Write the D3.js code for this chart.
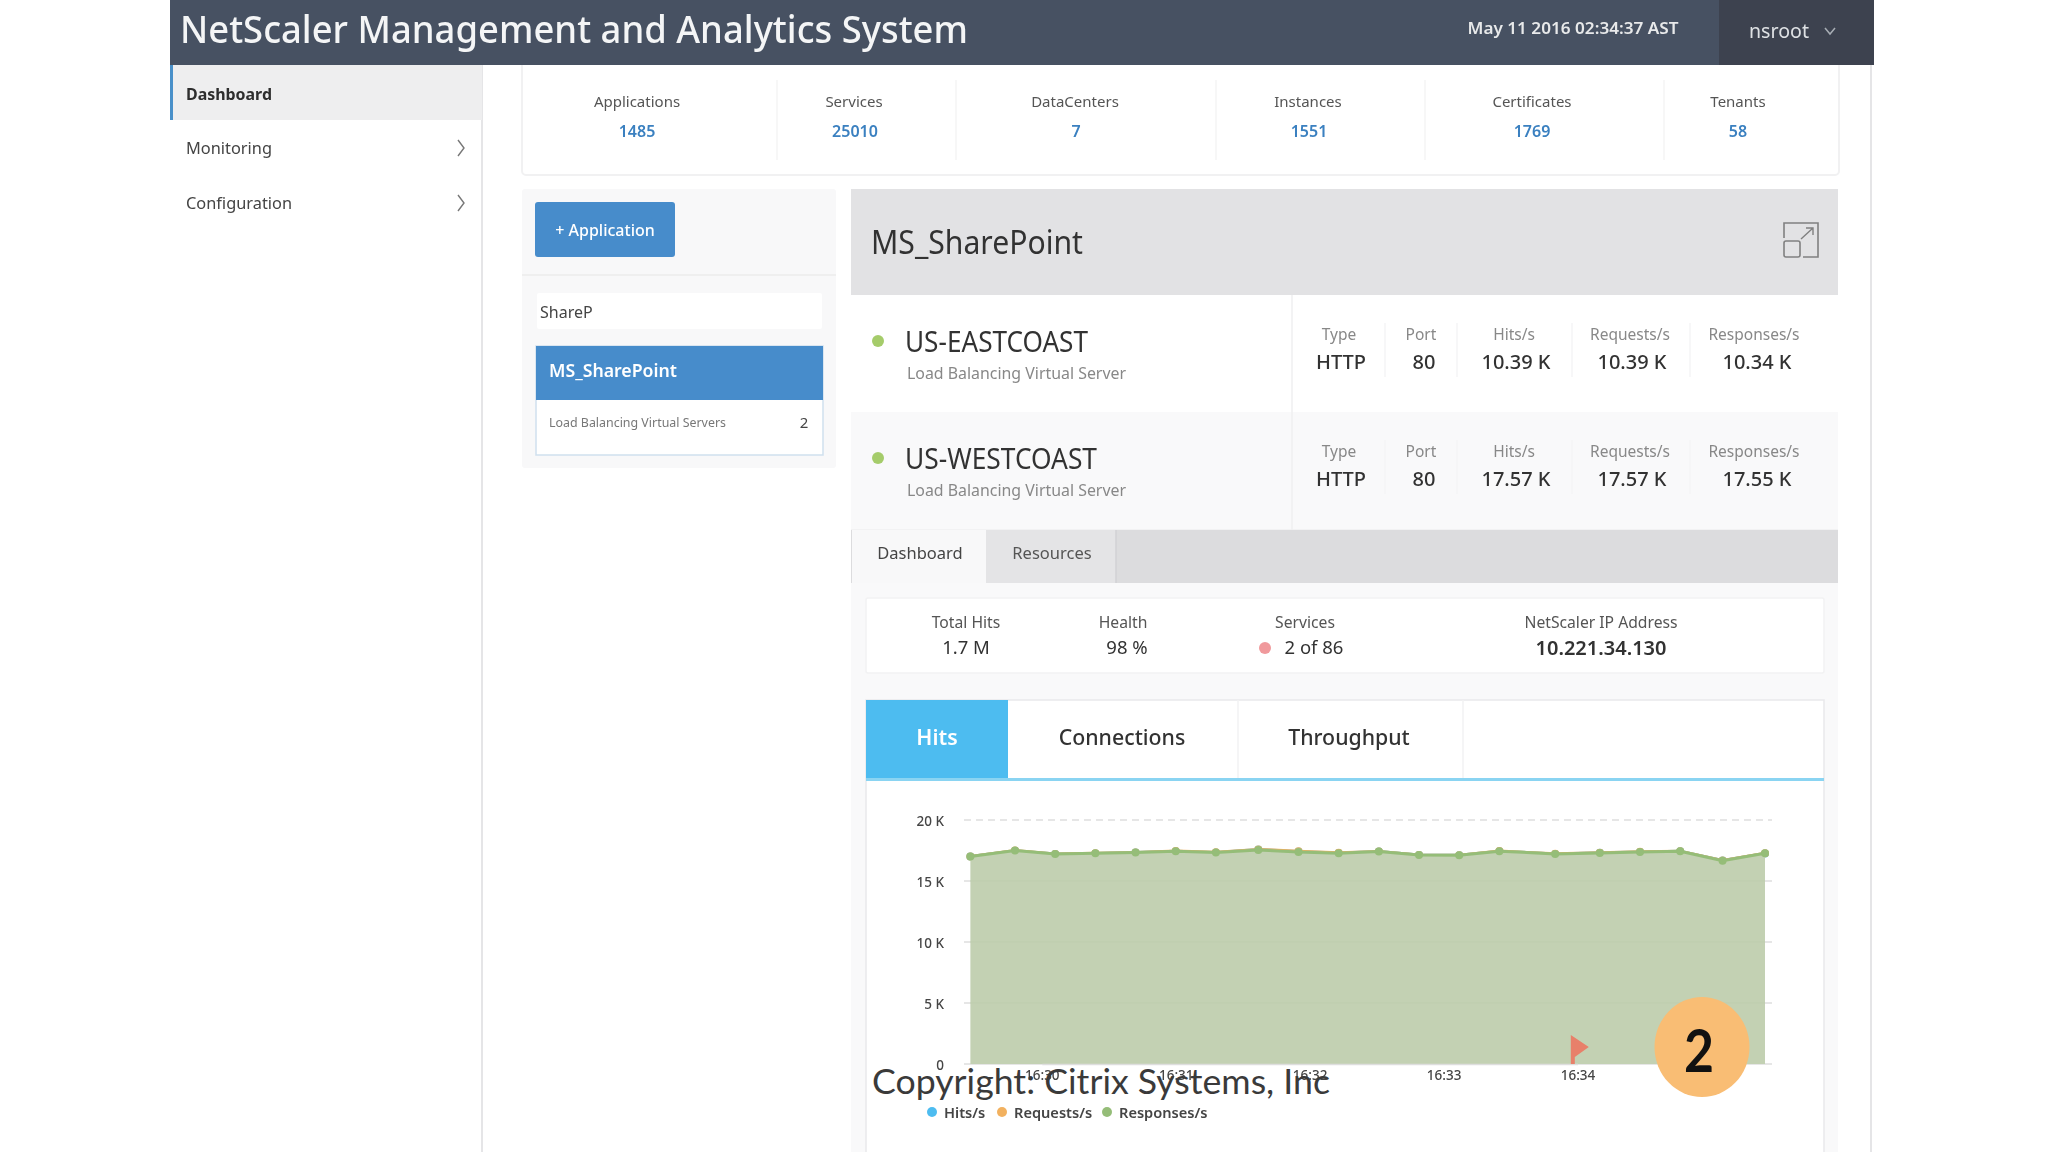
<!DOCTYPE html>
<html><head><meta charset="utf-8">
<script src="https://cdn.jsdelivr.net/npm/d3@7"></script>
<style>
html,body{margin:0;padding:0;background:#fff;width:2048px;height:1152px;overflow:hidden}
svg{display:block}
text{font-family:"Noto Sans","Open Sans",sans-serif}
.wm{font-family:Lato,"Noto Sans",sans-serif}
</style></head><body>
<script>
// ---- chart data ----
const times = ["16:29:28","16:29:48","16:30:06","16:30:24","16:30:42","16:31:00","16:31:18","16:31:37","16:31:55","16:32:13","16:32:31","16:32:49","16:33:07","16:33:25","16:33:50","16:34:10","16:34:28","16:34:46","16:35:05","16:35:24"];
const hitsPerSec = [17000,17480,17210,17260,17330,17430,17340,17580,17420,17300,17420,17130,17110,17440,17220,17310,17380,17430,16680,17260];
const requestsPerSec = [17010,17490,17220,17270,17340,17450,17360,17590,17440,17310,17420,17140,17120,17450,17230,17320,17390,17440,16690,17270];
const responsesPerSec = [17000,17490,17220,17270,17330,17440,17330,17550,17380,17270,17410,17130,17110,17440,17220,17300,17380,17440,16670,17270];
const yTicks = [0,5000,10000,15000,20000];
const yTickLabels = ["0","5 K","10 K","15 K","20 K"];
const xTicks = ["16:30:00","16:31:00","16:32:00","16:33:00","16:34:00"];
const xTickLabels = ["16:30","16:31","16:32","16:33","16:34"];
const legendNames = ["Hits/s","Requests/s","Responses/s"];
const flagTime = "16:33:57";
// ---- page text ----
const pageTitle = "NetScaler Management and Analytics System";
const clock = "May 11 2016 02:34:37 AST";
const user = "nsroot";
const navItems = ["Dashboard","Monitoring","Configuration"];
const summaryLabels = ["Applications","Services","DataCenters","Instances","Certificates","Tenants"];
const summaryValues = ["1485","25010","7","1551","1769","58"];
const serverNames = ["US-EASTCOAST","US-WESTCOAST"];
const serverHeads = ["Type","Port","Hits/s","Requests/s","Responses/s"];
const serverRows = [["HTTP","80","10.39 K","10.39 K","10.34 K"],["HTTP","80","17.57 K","17.57 K","17.55 K"]];
const detailLabels = ["Total Hits","Health","Services","NetScaler IP Address"];
const detailValues = ["1.7 M","98 %","2 of 86","10.221.34.130"];
const chartTabs = ["Hits","Connections","Throughput"];
const subTabs = ["Dashboard","Resources"];

// ---- layout and style (separate from the data) ----
const seriesColors = ["#4ebcf0","#f2b15f","#95bd78"];
const W=2048,H=1152;
const svg = d3.select("body").append("svg").attr("width",W).attr("height",H);
const defs = svg.append("defs");
defs.append("filter").attr("id","soft").attr("x",0).attr("y",0).attr("width",1).attr("height",1)
  .append("feGaussianBlur").attr("stdDeviation",0.65);
const ui = svg.append("g").attr("filter","url(#soft)");
ui.append("rect").attr("width",W).attr("height",H).attr("fill","#fff");

function R(x,y,w,h,fill,o={}){return ui.append("rect").attr("x",x).attr("y",y).attr("width",w).attr("height",h).attr("fill",fill).attr("stroke",o.stroke||"none").attr("stroke-width",o.sw||1).attr("rx",o.r||0);}
function T(s,x,y,size,fill,o={}){return ui.append("text").attr("x",x).attr("y",y).attr("dy","0.35em").attr("font-size",size).attr("fill",fill).attr("text-anchor",o.a||"middle").attr("font-weight",o.w||400).attr("textLength",o.len||null).attr("lengthAdjust",o.len?"spacingAndGlyphs":null).text(s);}
function L(x1,y1,x2,y2,c,sw=1,dash=null){return ui.append("line").attr("x1",x1).attr("y1",y1).attr("x2",x2).attr("y2",y2).attr("stroke",c).attr("stroke-width",sw).attr("stroke-dasharray",dash);}

// sidebar
L(482,65,482,H,"#dcdcdf",1.5);
L(1871,65,1871,H,"#dcdcdf",1.5);
R(170,65,312,55,"#eeeeef");
R(170,65,3,55,"#4a90c9");
const navY=[94,148,203], navLen=[86,86,106];
navItems.forEach((d,i)=>{
  T(d,186,navY[i],16.5,i?"#444":"#2e2e2e",{a:"start",w:i?400:700,len:navLen[i]});
  if(i) ui.append("path").attr("d",`M458 ${navY[i]-8}l6 8l-6 8`).attr("fill","none").attr("stroke","#777").attr("stroke-width",1.4);
});

// summary card
R(522,60,1317,115,"#fff",{stroke:"#f1f1f2",r:4,sw:2});
// header (over the card's top edge)
R(170,0,1704,65,"#465162");
R(1719,0,155,65,"#3c4350");
T(pageTitle,180,30,38,"#f4f5f6",{a:"start",len:788,w:500});
T(clock,1573,29,15.5,"#e8e9ea",{w:600,len:211});
T(user,1779,31,19,"#dfe1e4",{len:60});
ui.append("path").attr("d","M1825 28l5 6l5-6").attr("fill","none").attr("stroke","#a9adb4").attr("stroke-width",1.5);

[777,956,1216,1425,1664].forEach(x=>L(x,80,x,160,"#f4f4f5",1.5));
const sumLX=[637,854,1075,1308,1532,1738], sumVX=[637,855,1076,1309,1532,1738];
summaryLabels.forEach((d,i)=>{T(d,sumLX[i],102,15,"#555");T(summaryValues[i],sumVX[i],131,16,"#3a80c0",{w:600});});

// left panel
R(522,189,314,279,"#f8f8f9",{r:3});
R(535,202,140,55,"#478ccb",{r:3});
T("+ Application",605,230,16,"#fff",{w:500});
L(522,275,836,275,"#efefef",2);
R(537,293,285,36,"#fff",{r:2});
T("ShareP",540,312,16,"#444",{a:"start"});
R(536,346,287,109,"#fff",{stroke:"#cfe0ee",sw:1.5});
R(536,346,287,54,"#478ccb");
T("MS_SharePoint",549,371,18,"#fff",{a:"start",w:600,len:128});
T("Load Balancing Virtual Servers",549,423,12.5,"#777",{a:"start",len:177});
T("2",804,423,15,"#444");

// right panel
R(851,189,987,106,"#e2e2e4");
T("MS_SharePoint",871,243,32,"#333",{a:"start",len:212});
ui.append("path").attr("d","M1784 238V223H1818V257H1803").attr("fill","none").attr("stroke","#808080").attr("stroke-width",1.6);
ui.append("rect").attr("x",1784).attr("y",241).attr("width",16).attr("height",16).attr("rx",2).attr("fill","none").attr("stroke","#808080").attr("stroke-width",1.6);
ui.append("path").attr("d","M1801 239L1813 228M1806 228h7v7").attr("fill","none").attr("stroke","#808080").attr("stroke-width",1.4);

const rowTop=[295,412], rowFill=["#ffffff","#f9f9fa"];
const headX=[1339,1421,1514,1630,1754], valX=[1341,1424,1516,1632,1757], tickX=[1385,1457,1572,1690];
serverNames.forEach((d,r)=>{
  const y=rowTop[r];
  R(851,y,987,118,rowFill[r]);
  L(851,y+118,1838,y+118,"#efeff0",1.5);
  L(1292,y,1292,y+118,"#efeff0",1.5);
  ui.append("circle").attr("cx",878).attr("cy",y+46).attr("r",6).attr("fill","#a5cc6b");
  T(d,905,y+47,29,"#333",{a:"start",len:r?192:183});
  T("Load Balancing Virtual Server",907,y+78,16,"#888",{a:"start",len:219});
  serverHeads.forEach((h,i)=>T(h,headX[i],y+40,15.5,"#888"));
  serverRows[r].forEach((v,i)=>T(v,valX[i],y+67,20,"#333",{w:500}));
  tickX.forEach(x=>L(x,y+28,x,y+82,"#f5f5f6",1.5));
});

// lower panel
R(851,530,987,622,"#f9f9fa");
R(851,530,987,53,"#dcdcde");
R(852,530,134,53,"#f8f8f9");
R(986,530,130,53,"#e4e4e6");
L(1116,530,1116,583,"#d2d2d4",1.5);
const subX=[920,1052];
subTabs.forEach((d,i)=>T(d,subX[i],553,16.5,i?"#555":"#444"));

R(866,598,958,75,"#fff",{stroke:"#f2f2f3",r:2,sw:1.5});
const detX=[966,1123,1305,1601], detVX=[966,1127,1314,1601];
detailLabels.forEach((d,i)=>T(d,detX[i],623,15.7,"#555"));
detailValues.forEach((d,i)=>T(d,detVX[i],648,i==3?20:18.5,"#333",{w:i==3?600:400}));
ui.append("circle").attr("cx",1265).attr("cy",648).attr("r",6).attr("fill","#f0999c");

// chart card
R(866,700,958,460,"#fff",{stroke:"#e9e9eb",sw:1.5});
R(866,700,142,78,"#4ebcf0");
R(866,778,958,3,"#8ad4f2");
L(1238,700,1238,778,"#f2f2f3",1.5);
L(1463,700,1463,778,"#f2f2f3",1.5);
const tabX=[937,1122,1349];
chartTabs.forEach((d,i)=>T(d,tabX[i],738,21.3,i?"#333":"#fff",{w:i?500:600}));

// ---- the chart itself ----
const parse=d3.timeParse("%H:%M:%S");
const x=d3.scaleTime().domain([parse("16:30:00"),parse("16:34:00")]).range([1041.8,1577.5]);
const y=d3.scaleLinear().domain([0,20000]).range([1064,820]);
const plot=ui.append("g");
const axisY=plot.append("g").attr("transform","translate(964,1.5)")
  .call(d3.axisLeft(y).tickValues(yTicks).tickFormat((d,i)=>yTickLabels[i]).tickSize(0).tickPadding(20));
axisY.select(".domain").remove();
axisY.selectAll("text").attr("font-size",13.5).attr("fill","#444").attr("font-family","Noto Sans").attr("font-weight",500);
plot.selectAll("line.grid").data(yTicks).join("line").attr("class","grid")
  .attr("x1",964).attr("x2",1772).attr("y1",d=>y(d)).attr("y2",d=>y(d))
  .attr("stroke","#dedede").attr("stroke-width",1.5).attr("stroke-dasharray",d=>d==20000?"7 5":null);
const pts=times.map(parse);
const area=d3.area().x((d,i)=>x(pts[i])).y0(y(0)).y1(d=>y(d));
const line=d3.line().x((d,i)=>x(pts[i])).y(d=>y(d));
[hitsPerSec,requestsPerSec,responsesPerSec].forEach((s,k)=>{
  plot.append("path").datum(s).attr("d",area).attr("fill",k==2?"#c3d1b3":"none");
  plot.append("path").datum(s).attr("d",line).attr("fill","none").attr("stroke",seriesColors[k]).attr("stroke-width",3);
  plot.selectAll(null).data(s).join("circle").attr("cx",(d,i)=>x(pts[i])).attr("cy",d=>y(d)).attr("r",4).attr("fill",seriesColors[k]);
});
plot.selectAll("line.grid2").data(yTicks.slice(1,-1)).join("line").attr("class","grid2")
  .attr("x1",970).attr("x2",1765).attr("y1",d=>y(d)).attr("y2",d=>y(d))
  .attr("stroke","#b9c9a9").attr("stroke-width",1).attr("opacity",0.5);
const axisX=plot.append("g").attr("transform","translate(0,1064)")
  .call(d3.axisBottom(x).tickValues(xTicks.map(parse)).tickFormat((d,i)=>xTickLabels[i]).tickSize(0).tickPadding(6));
axisX.select(".domain").attr("stroke","#dedede").attr("stroke-width",1.5);
axisX.selectAll("text").attr("font-size",13.5).attr("fill","#444").attr("font-family","Noto Sans").attr("font-weight",500);
// flag
const fx=x(parse(flagTime));
plot.append("path").attr("d",`M${fx} ${y(0)}V${y(0)-29}L${fx+18} ${y(0)-17}L${fx+4} ${y(0)-7}V${y(0)}Z`).attr("fill","#e8806a");
// legend
const legX=[932,1002,1107];
legendNames.forEach((d,i)=>{
  ui.append("circle").attr("cx",legX[i]).attr("cy",1112).attr("r",5).attr("fill",seriesColors[i]);
  T(d,legX[i]+12,1113,14.6,"#444",{a:"start",w:600});
});

// overlay (crisp, not blurred)
const overlay=svg.append("g");
overlay.append("ellipse").attr("cx",1702).attr("cy",1047).attr("rx",47.5).attr("ry",50).attr("fill","#f9bd74");
overlay.append("text").attr("class","wm").attr("x",1699).attr("y",1072).attr("text-anchor","middle").attr("font-size",60).attr("font-weight",700).attr("fill","#111").attr("textLength",30).attr("lengthAdjust","spacingAndGlyphs").text("2");
overlay.append("text").attr("class","wm").attr("x",872).attr("y",1094).attr("font-size",34).attr("fill","#3a3a3a").attr("textLength",458).attr("lengthAdjust","spacingAndGlyphs").text("Copyright: Citrix Systems, Inc");
</script>
</body></html>
